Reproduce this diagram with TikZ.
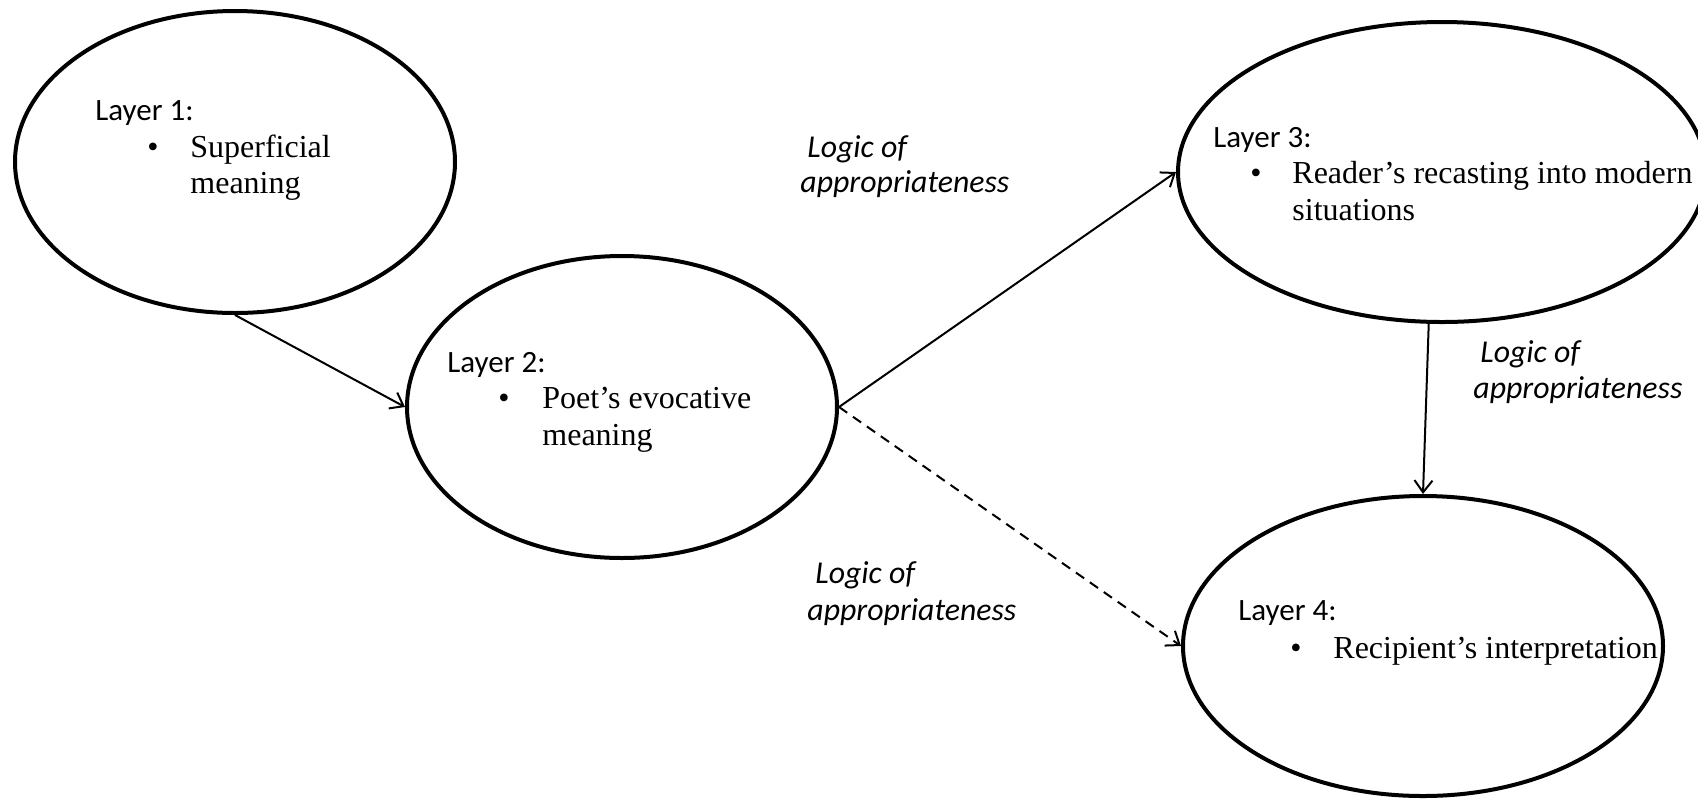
\documentclass[tikz,border=0pt]{standalone}
\usepackage{fontspec}
\setmainfont{Liberation Serif}
\newfontfamily\calib{Carlito}
\usetikzlibrary{arrows.meta,shapes.geometric}
\begin{document}
\begin{tikzpicture}[x=0.5pt,y=-0.5pt,
  layer/.style={draw,ellipse,line width=2pt,inner sep=0pt},
  conn/.style={line width=1pt,-{Straight Barb[length=6pt,width=9pt,line width=1pt]}},
  head/.style={font=\calib\fontsize{15.5}{18.5}\selectfont,anchor=base west,inner sep=0pt},
  body/.style={font=\fontsize{16}{19}\selectfont,anchor=base west,inner sep=0pt},
  logic/.style={font=\calib\itshape\fontsize{15.9}{19}\selectfont,anchor=base west,inner sep=0pt}]
\useasboundingbox (0,0) rectangle (1698,799);

\node[layer,minimum width=220pt,minimum height=151pt] (e1) at (235,162) {};
\node[layer,minimum width=215pt,minimum height=151pt] (e2) at (622,407) {};
\node[layer,minimum width=264pt,minimum height=150pt] (e3) at (1442,172) {};
\node[layer,minimum width=240pt,minimum height=150pt] (e4) at (1423,646) {};

% Layer 1
\node[head] (h1) at (95,120) {Layer 1:};
\node[body] (b1) at (147,157) {•};
\node[body] (t1a) at (190,157) {Superficial};
\node[body] (t1b) at (190,193) {meaning};
% Layer 2
\node[head] (h2) at (447,372) {Layer 2:};
\node[body] (b2) at (498,408) {•};
\node[body] (t2a) at (542,408) {Poet’s evocative};
\node[body] (t2b) at (542,445) {meaning};
% Layer 3
\node[head] (h3) at (1213,147) {Layer 3:};
\node[body] (b3) at (1250,183) {•};
\node[body] (t3a) at (1292,183) {Reader’s recasting into modern};
\node[body] (t3b) at (1292,220) {situations};
% Layer 4
\node[head] (h4) at (1238,620) {Layer 4:};
\node[body] (b4) at (1290,658) {•};
\node[body] (t4a) at (1333,658) {Recipient’s interpretation};

% Logic labels
\node[logic] (l1a) at (807,157) {Logic of};
\node[logic] (l1b) at (800,192) {appropriateness};
\node[logic] (l2a) at (815,583) {Logic of};
\node[logic] (l2b) at (807,620) {appropriateness};
\node[logic] (l3a) at (1480,362) {Logic of};
\node[logic] (l3b) at (1473,398) {appropriateness};

% Connectors
\draw[conn] (e1.south) -- (e2.west);
\draw[conn] (e2.east) -- (e3.west);
\draw[conn,dash pattern=on 5pt off 3.5pt] (e2.east) -- (e4.west);
\draw[conn] (e3.265) -- (e4.north);
\end{tikzpicture}
\end{document}
